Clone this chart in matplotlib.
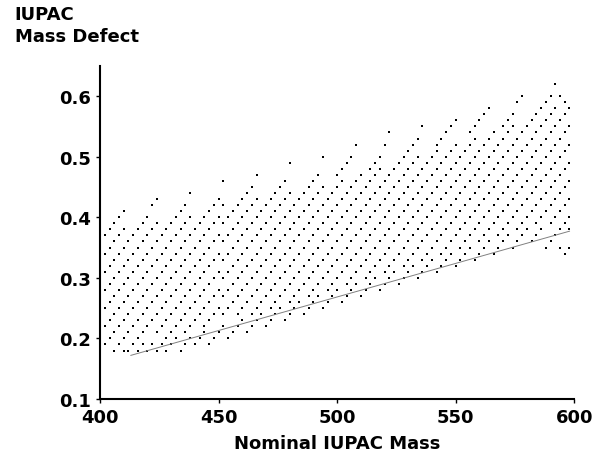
import matplotlib
matplotlib.use("Agg")
import matplotlib.pyplot as plt

masses = list(range(400, 600, 2))
defects = [
    [.18, .21, .24, .27, .30, .33, .35],
    [.19, .22, .25, .28, .31, .34, .37],
    [.20, .23, .26, .29, .32, .35, .38],
    [.18, .21, .24, .27, .30, .33, .36, .39],
    [.19, .22, .25, .28, .31, .34, .37, .40],
    [.18, .20, .23, .26, .29, .32, .35, .38, .41],
    [.18, .21, .24, .27, .30, .33, .36],
    [.19, .22, .25, .28, .31, .34, .37],
    [.18, .20, .23, .26, .29, .32, .35, .38],
    [.19, .21, .24, .27, .30, .33, .36, .39],
    [.18, .22, .25, .28, .31, .34, .37, .40],
    [.19, .23, .26, .29, .32, .35, .38, .42],
    [.18, .21, .24, .27, .30, .33, .36, .39, .43],
    [.19, .22, .25, .28, .31, .34, .37],
    [.18, .20, .23, .26, .29, .32, .35, .38],
    [.19, .21, .24, .27, .30, .33, .36, .39],
    [.20, .22, .25, .28, .31, .34, .37, .40],
    [.18, .23, .26, .29, .32, .35, .38, .41],
    [.19, .21, .24, .27, .30, .33, .36, .39, .42],
    [.20, .22, .25, .28, .31, .34, .37, .40, .44],
    [.19, .23, .26, .29, .32, .35, .38],
    [.20, .24, .27, .30, .33, .36, .39],
    [.21, .22, .25, .28, .31, .34, .37, .40],
    [.19, .23, .26, .29, .32, .35, .38, .41],
    [.20, .24, .27, .30, .33, .36, .39, .42],
    [.21, .25, .28, .31, .34, .37, .40, .43],
    [.22, .24, .27, .30, .33, .36, .39, .42, .46],
    [.20, .25, .28, .31, .34, .37, .40],
    [.21, .26, .29, .32, .35, .38, .41],
    [.22, .24, .27, .30, .33, .36, .39, .42],
    [.23, .25, .28, .31, .34, .37, .40, .43],
    [.21, .26, .29, .32, .35, .38, .41, .44],
    [.22, .24, .27, .30, .33, .36, .39, .42, .45],
    [.23, .25, .28, .31, .34, .37, .40, .43, .47],
    [.24, .26, .29, .32, .35, .38, .41],
    [.22, .27, .30, .33, .36, .39, .42],
    [.23, .25, .28, .31, .34, .37, .40, .43],
    [.24, .26, .29, .32, .35, .38, .41, .44],
    [.25, .27, .30, .33, .36, .39, .42, .45],
    [.23, .28, .31, .34, .37, .40, .43, .46],
    [.24, .26, .29, .32, .35, .38, .41, .44, .49],
    [.25, .27, .30, .33, .36, .39, .42],
    [.26, .28, .31, .34, .37, .40, .43],
    [.24, .29, .32, .35, .38, .41, .44],
    [.25, .27, .30, .33, .36, .39, .42, .45],
    [.26, .28, .31, .34, .37, .40, .43, .46],
    [.27, .29, .32, .35, .38, .41, .44, .47],
    [.25, .30, .33, .36, .39, .42, .45, .50],
    [.26, .28, .31, .34, .37, .40, .43],
    [.27, .29, .32, .35, .38, .41, .44],
    [.28, .30, .33, .36, .39, .42, .45, .47],
    [.26, .31, .34, .37, .40, .43, .46, .48],
    [.27, .29, .32, .35, .38, .41, .44, .49],
    [.28, .30, .33, .36, .39, .42, .45, .50],
    [.29, .31, .34, .37, .40, .43, .46, .52],
    [.27, .32, .35, .38, .41, .44, .47],
    [.28, .30, .33, .36, .39, .42, .45],
    [.29, .31, .34, .37, .40, .43, .46, .48],
    [.30, .32, .35, .38, .41, .44, .47, .49],
    [.28, .33, .36, .39, .42, .45, .48, .50],
    [.29, .31, .34, .37, .40, .43, .46, .52],
    [.30, .32, .35, .38, .41, .44, .47, .54],
    [.31, .33, .36, .39, .42, .45, .48],
    [.29, .34, .37, .40, .43, .46, .49],
    [.30, .32, .35, .38, .41, .44, .47, .50],
    [.31, .33, .36, .39, .42, .45, .48, .51],
    [.32, .34, .37, .40, .43, .46, .49, .52],
    [.30, .35, .38, .41, .44, .47, .50, .53],
    [.31, .33, .36, .39, .42, .45, .48, .55],
    [.32, .34, .37, .40, .43, .46, .49],
    [.33, .35, .38, .41, .44, .47, .50],
    [.31, .36, .39, .42, .45, .48, .51, .52],
    [.32, .34, .37, .40, .43, .46, .49, .53],
    [.33, .35, .38, .41, .44, .47, .50, .54],
    [.34, .36, .39, .42, .45, .48, .51, .55],
    [.32, .37, .40, .43, .46, .49, .52, .56],
    [.33, .35, .38, .41, .44, .47, .50],
    [.34, .36, .39, .42, .45, .48, .51],
    [.35, .37, .40, .43, .46, .49, .52, .54],
    [.33, .38, .41, .44, .47, .50, .53, .55],
    [.34, .36, .39, .42, .45, .48, .51, .56],
    [.35, .37, .40, .43, .46, .49, .52, .57],
    [.36, .38, .41, .44, .47, .50, .53, .58],
    [.34, .39, .42, .45, .48, .51, .54],
    [.35, .37, .40, .43, .46, .49, .52],
    [.36, .38, .41, .44, .47, .50, .53, .55],
    [.37, .39, .42, .45, .48, .51, .54, .56],
    [.35, .40, .43, .46, .49, .52, .55, .57],
    [.36, .38, .41, .44, .47, .50, .53, .59],
    [.37, .39, .42, .45, .48, .51, .54, .60],
    [.38, .40, .43, .46, .49, .52, .55],
    [.36, .41, .44, .47, .50, .53, .56],
    [.37, .39, .42, .45, .48, .51, .54, .57],
    [.38, .40, .43, .46, .49, .52, .55, .58],
    [.35, .41, .44, .47, .50, .53, .56, .59],
    [.36, .39, .42, .45, .48, .51, .54, .57, .60],
    [.37, .40, .43, .46, .49, .52, .55, .58, .62],
    [.35, .38, .41, .44, .47, .50, .53, .56, .60],
    [.34, .39, .42, .45, .48, .51, .54, .57, .59],
    [.35, .38, .40, .43, .46, .49, .52, .55, .58],
]
# lower boundary line
line_x = [413, 598]
line_y = [0.172, 0.377]

xs, ys = [], []
for m, col in zip(masses, defects):
    xs.extend([m] * len(col))
    ys.extend(col)

fig = plt.figure(figsize=(5.92, 4.64), dpi=100)
ax = fig.add_axes([0.169, 0.138, 0.801, 0.718])
ax.scatter(xs, ys, s=3, c="black", marker="s", linewidths=0)
ax.plot(line_x, line_y, color="gray", lw=0.7)

ax.set_xlim(400, 600)
ax.set_ylim(0.1, 0.65)
ax.set_xticks([400, 450, 500, 550, 600])
ax.set_yticks([0.1, 0.2, 0.3, 0.4, 0.5, 0.6])
ax.spines["top"].set_visible(False)
ax.spines["right"].set_visible(False)
ax.spines["left"].set_linewidth(1.5)
ax.spines["bottom"].set_linewidth(1.5)
ax.tick_params(length=3, width=1, labelsize=13)
for lab in ax.get_xticklabels() + ax.get_yticklabels():
    lab.set_fontweight("bold")
ax.set_xlabel("Nominal IUPAC Mass", fontsize=13, fontweight="bold", labelpad=6)
fig.text(0.025, 0.90, "IUPAC\nMass Defect", fontsize=13, fontweight="bold",
         ha="left", va="bottom", linespacing=1.3)

fig.savefig("out.png", dpi=100)
